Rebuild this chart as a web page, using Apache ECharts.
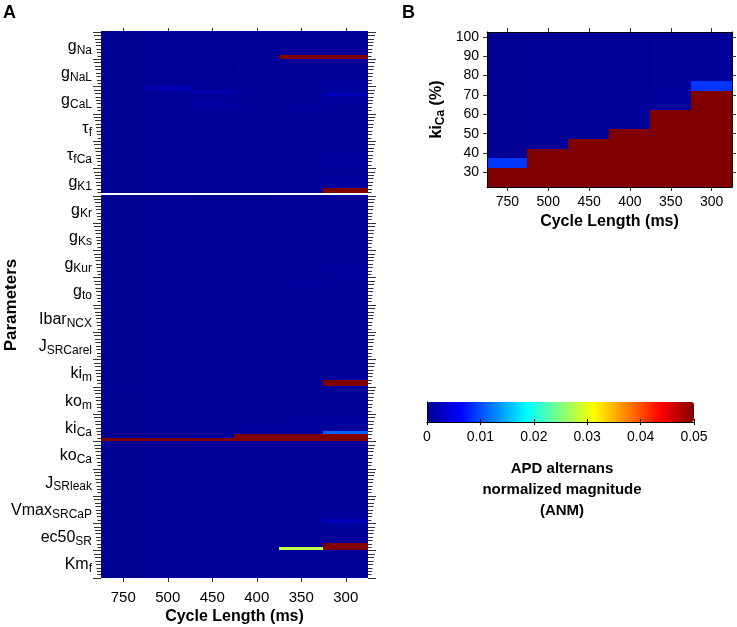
<!DOCTYPE html>
<html><head><meta charset="utf-8">
<script src="https://cdn.jsdelivr.net/npm/echarts@6/dist/echarts.min.js"></script>
<style>html,body{margin:0;padding:0;background:#fff}#c{width:737px;height:627px}</style>
</head><body><div id="c"></div><script>
// ---------- data ----------
const cycleLengths = ['750','500','450','400','350','300'];
const paramMain = ['g','g','g','\u03c4','\u03c4','g','g','g','g','g','Ibar','J','ki','ko','ki','ko','J','Vmax','ec50','Km'];
const paramSub  = ['Na','NaL','CaL','f','fCa','K1','Kr','Ks','Kur','to','NCX','SRCarel','m','m','Ca','Ca','SRleak','SRCaP','SR','f'];
const kiCaLevels = ['25','30','35','40','45','50','55','60','65','70','75','80','85','90','95','100'];
const colorbarTicks = [0, 0.01, 0.02, 0.03, 0.04, 0.05];

// Panel A: ANM, 8 scaling levels per parameter (top -> bottom), columns = cycleLengths
const anmA = [
// gNa
[0.0001,0.0004,0.0004,0.0005,0.0005,0.0005],
[0.0001,0.0004,0.0005,0.0006,0.0005,0.0005],
[0.0001,0.0004,0.0006,0.0007,0.0006,0.0005],
[0.0001,0.0004,0.0005,0.0006,0.0005,0.0006],
[0.0001,0.0004,0.0005,0.0005,0.0005,0.0006],
[0.0001,0.0004,0.0005,0.0005,0.0006,0.0006],
[0.0001,0.0004,0.0004,0.0005,0.0006,0.0007],
[0.0001,0.0004,0.0004,0.0005,0.05,0.05],
// gNaL
[0.0001,0.0004,0.0004,0.0005,0.0005,0.0005],
[0.0001,0.0004,0.0005,0.0006,0.0005,0.0005],
[0.0001,0.0004,0.0005,0.0006,0.0005,0.0006],
[0.0001,0.0004,0.0005,0.0006,0.0006,0.0006],
[0.0001,0.0004,0.0005,0.0006,0.0006,0.0005],
[0.0001,0.0005,0.0006,0.0005,0.0006,0.0005],
[0.0001,0.0005,0.0006,0.0005,0.0006,0.0006],
[0.0001,0.0006,0.0005,0.0005,0.0006,0.0006],
// gCaL
[0.0001,0.0020,0.0008,0.0005,0.0006,0.0007],
[0.0001,0.0007,0.0018,0.0006,0.0006,0.0007],
[0.0001,0.0005,0.0007,0.0006,0.0005,0.0024],
[0.0001,0.0004,0.0005,0.0005,0.0006,0.0007],
[0.0001,0.0004,0.0009,0.0005,0.0006,0.0006],
[0.0001,0.0004,0.0011,0.0005,0.0006,0.0006],
[0.0001,0.0004,0.0006,0.0005,0.0007,0.0006],
[0.0001,0.0004,0.0005,0.0005,0.0006,0.0005],
// tau_f
[0.0001,0.0004,0.0005,0.0005,0.0005,0.0005],
[0.0001,0.0004,0.0005,0.0005,0.0006,0.0005],
[0.0001,0.0004,0.0005,0.0006,0.0006,0.0006],
[0.0001,0.0004,0.0005,0.0006,0.0005,0.0006],
[0.0001,0.0004,0.0005,0.0005,0.0005,0.0006],
[0.0001,0.0004,0.0005,0.0005,0.0006,0.0006],
[0.0001,0.0004,0.0005,0.0005,0.0006,0.0006],
[0.0001,0.0004,0.0004,0.0005,0.0005,0.0006],
// tau_fCa
[0.0001,0.0004,0.0005,0.0005,0.0005,0.0005],
[0.0001,0.0004,0.0005,0.0005,0.0005,0.0006],
[0.0001,0.0004,0.0005,0.0006,0.0006,0.0006],
[0.0001,0.0004,0.0005,0.0006,0.0006,0.0007],
[0.0001,0.0004,0.0005,0.0005,0.0006,0.0007],
[0.0001,0.0004,0.0005,0.0005,0.0006,0.0007],
[0.0001,0.0004,0.0005,0.0005,0.0006,0.0006],
[0.0001,0.0004,0.0004,0.0005,0.0006,0.0007],
// gK1
[0.0001,0.0004,0.0005,0.0005,0.0005,0.0006],
[0.0001,0.0004,0.0005,0.0005,0.0006,0.0006],
[0.0001,0.0004,0.0005,0.0005,0.0006,0.0006],
[0.0001,0.0004,0.0005,0.0005,0.0006,0.0007],
[0.0001,0.0004,0.0005,0.0005,0.0006,0.0008],
[0.0001,0.0004,0.0005,0.0005,0.0006,0.0009],
[0.0001,0.0004,0.0005,0.0005,0.0006,0.05],
['-','-','-','-','-','-'],
// gKr
[0.0001,0.0004,0.0005,0.0005,0.0005,0.0005],
[0.0001,0.0004,0.0005,0.0005,0.0006,0.0005],
[0.0001,0.0004,0.0005,0.0005,0.0006,0.0006],
[0.0001,0.0004,0.0005,0.0005,0.0006,0.0006],
[0.0001,0.0004,0.0005,0.0005,0.0006,0.0006],
[0.0001,0.0004,0.0005,0.0005,0.0006,0.0006],
[0.0001,0.0004,0.0005,0.0005,0.0006,0.0006],
[0.0001,0.0004,0.0005,0.0005,0.0006,0.0006],
// gKs
[0.0001,0.0004,0.0005,0.0005,0.0005,0.0005],
[0.0001,0.0004,0.0005,0.0005,0.0005,0.0005],
[0.0001,0.0004,0.0005,0.0005,0.0006,0.0006],
[0.0001,0.0004,0.0005,0.0005,0.0006,0.0006],
[0.0001,0.0004,0.0005,0.0005,0.0006,0.0006],
[0.0001,0.0004,0.0005,0.0005,0.0006,0.0006],
[0.0001,0.0004,0.0005,0.0005,0.0006,0.0006],
[0.0001,0.0004,0.0005,0.0005,0.0006,0.0006],
// gKur
[0.0001,0.0004,0.0005,0.0005,0.0005,0.0006],
[0.0001,0.0004,0.0005,0.0005,0.0005,0.0006],
[0.0001,0.0004,0.0005,0.0005,0.0006,0.0006],
[0.0001,0.0004,0.0005,0.0005,0.0006,0.0006],
[0.0001,0.0004,0.0005,0.0005,0.0006,0.0006],
[0.0001,0.0004,0.0005,0.0005,0.0006,0.0006],
[0.0001,0.0004,0.0005,0.0005,0.0006,0.0007],
[0.0001,0.0004,0.0005,0.0005,0.0006,0.0006],
// gto
[0.0001,0.0004,0.0005,0.0005,0.0005,0.0006],
[0.0001,0.0004,0.0005,0.0005,0.0006,0.0006],
[0.0001,0.0004,0.0005,0.0006,0.0007,0.0006],
[0.0001,0.0004,0.0005,0.0005,0.0006,0.0006],
[0.0001,0.0004,0.0005,0.0005,0.0006,0.0006],
[0.0001,0.0004,0.0005,0.0005,0.0006,0.0006],
[0.0001,0.0004,0.0005,0.0005,0.0006,0.0006],
[0.0001,0.0004,0.0005,0.0005,0.0006,0.0006],
// IbarNCX
[0.0001,0.0004,0.0005,0.0005,0.0005,0.0006],
[0.0001,0.0004,0.0005,0.0005,0.0006,0.0006],
[0.0001,0.0004,0.0005,0.0005,0.0006,0.0006],
[0.0001,0.0004,0.0005,0.0005,0.0006,0.0006],
[0.0001,0.0004,0.0005,0.0005,0.0006,0.0006],
[0.0001,0.0004,0.0005,0.0005,0.0006,0.0006],
[0.0001,0.0004,0.0005,0.0005,0.0006,0.0006],
[0.0001,0.0004,0.0005,0.0005,0.0006,0.0006],
// JSRCarel
[0.0001,0.0004,0.0005,0.0005,0.0006,0.0006],
[0.0001,0.0004,0.0005,0.0005,0.0006,0.0006],
[0.0001,0.0004,0.0005,0.0005,0.0006,0.0006],
[0.0001,0.0004,0.0005,0.0005,0.0006,0.0006],
[0.0001,0.0004,0.0005,0.0005,0.0006,0.0006],
[0.0001,0.0004,0.0005,0.0005,0.0006,0.0006],
[0.0001,0.0004,0.0005,0.0005,0.0006,0.0006],
[0.0001,0.0004,0.0005,0.0005,0.0006,0.0006],
// kim
[0.0001,0.0004,0.0005,0.0005,0.0006,0.0006],
[0.0001,0.0004,0.0005,0.0005,0.0006,0.0006],
[0.0001,0.0004,0.0005,0.0005,0.0006,0.0006],
[0.0001,0.0004,0.0005,0.0005,0.0006,0.0006],
[0.0001,0.0004,0.0005,0.0005,0.0006,0.0006],
[0.0001,0.0004,0.0006,0.0005,0.0006,0.0007],
[0.0001,0.0004,0.0005,0.0005,0.0006,0.05],
[0.0001,0.0004,0.0005,0.0005,0.0006,0.05],
// kom
[0.0001,0.0004,0.0005,0.0005,0.0006,0.0006],
[0.0002,0.0004,0.0005,0.0005,0.0006,0.0006],
[0.0001,0.0004,0.0005,0.0005,0.0006,0.0006],
[0.0001,0.0004,0.0005,0.0005,0.0006,0.0006],
[0.0001,0.0004,0.0005,0.0005,0.0006,0.0006],
[0.0001,0.0004,0.0005,0.0005,0.0006,0.0006],
[0.0001,0.0004,0.0005,0.0005,0.0006,0.0006],
[0.0001,0.0004,0.0005,0.0005,0.0006,0.0006],
// kiCa
[0.0001,0.0004,0.0005,0.0005,0.0006,0.0006],
[0.0001,0.0004,0.0005,0.0006,0.0006,0.0007],
[0.0001,0.0004,0.0005,0.0006,0.0007,0.0007],
[0.0001,0.0004,0.0005,0.0006,0.0007,0.0008],
[0.0001,0.0004,0.0005,0.0007,0.0008,0.0008],
[0.0001,0.0004,0.0005,0.0007,0.0008,0.0110],
[0.0001,0.0004,0.0005,0.05,0.05,0.05],
[0.05,0.05,0.05,0.05,0.05,0.05],
// koCa
[0.0001,0.0004,0.0005,0.0005,0.0006,0.0006],
[0.0001,0.0004,0.0005,0.0005,0.0006,0.0006],
[0.0001,0.0004,0.0005,0.0005,0.0006,0.0006],
[0.0001,0.0004,0.0005,0.0005,0.0006,0.0006],
[0.0001,0.0004,0.0005,0.0005,0.0006,0.0006],
[0.0001,0.0004,0.0005,0.0005,0.0006,0.0006],
[0.0001,0.0004,0.0005,0.0005,0.0006,0.0006],
[0.0001,0.0004,0.0005,0.0005,0.0006,0.0006],
// JSRleak
[0.0001,0.0004,0.0005,0.0005,0.0006,0.0006],
[0.0001,0.0004,0.0005,0.0005,0.0006,0.0006],
[0.0001,0.0004,0.0005,0.0005,0.0006,0.0006],
[0.0001,0.0004,0.0005,0.0005,0.0006,0.0006],
[0.0001,0.0004,0.0005,0.0005,0.0006,0.0006],
[0.0001,0.0004,0.0005,0.0005,0.0006,0.0006],
[0.0001,0.0004,0.0005,0.0005,0.0006,0.0006],
[0.0001,0.0004,0.0005,0.0005,0.0006,0.0006],
// VmaxSRCaP
[0.0001,0.0004,0.0005,0.0005,0.0006,0.0006],
[0.0001,0.0008,0.0005,0.0005,0.0006,0.0006],
[0.0001,0.0004,0.0005,0.0005,0.0006,0.0006],
[0.0001,0.0004,0.0005,0.0005,0.0006,0.0006],
[0.0001,0.0004,0.0005,0.0005,0.0006,0.0006],
[0.0001,0.0004,0.0005,0.0005,0.0006,0.0007],
[0.0001,0.0004,0.0005,0.0005,0.0006,0.0007],
[0.0001,0.0004,0.0005,0.0005,0.0006,0.0022],
// ec50SR
[0.0001,0.0004,0.0005,0.0005,0.0006,0.0006],
[0.0001,0.0004,0.0005,0.0005,0.0006,0.0006],
[0.0001,0.0004,0.0005,0.0005,0.0006,0.0006],
[0.0001,0.0004,0.0005,0.0005,0.0006,0.0006],
[0.0001,0.0004,0.0005,0.0005,0.0006,0.0007],
[0.0001,0.0004,0.0005,0.0005,0.0006,0.0007],
[0.0001,0.0004,0.0005,0.0005,0.0006,0.05],
[0.0001,0.0004,0.0005,0.0005,0.0280,0.05],
// Kmf
[0.0001,0.0004,0.0005,0.0005,0.0006,0.0006],
[0.0001,0.0004,0.0005,0.0005,0.0006,0.0006],
[0.0001,0.0004,0.0005,0.0005,0.0006,0.0006],
[0.0001,0.0004,0.0005,0.0005,0.0006,0.0006],
[0.0001,0.0004,0.0005,0.0005,0.0006,0.0006],
[0.0001,0.0004,0.0005,0.0005,0.0006,0.0006],
[0.0001,0.0004,0.0005,0.0005,0.0006,0.0006],
[0.0001,0.0004,0.0005,0.0005,0.0006,0.0006]
];

// Panel B: ANM vs ki_Ca level (rows follow kiCaLevels, 25 -> 100), columns = cycleLengths
const anmB = [
[0.05,0.05,0.05,0.05,0.05,0.05],
[0.05,0.05,0.05,0.05,0.05,0.05],
[0.0088,0.05,0.05,0.05,0.05,0.05],
[0.0002,0.05,0.05,0.05,0.05,0.05],
[0.0002,0.0004,0.05,0.05,0.05,0.05],
[0.0002,0.0004,0.0005,0.05,0.05,0.05],
[0.0002,0.0004,0.0005,0.0006,0.05,0.05],
[0.0002,0.0004,0.0005,0.0006,0.05,0.05],
[0.0002,0.0004,0.0004,0.0006,0.0007,0.05],
[0.0002,0.0004,0.0004,0.0005,0.0007,0.05],
[0.0002,0.0004,0.0005,0.0005,0.0006,0.0088],
[0.0002,0.0004,0.0005,0.0005,0.0006,0.0006],
[0.0002,0.0004,0.0005,0.0005,0.0006,0.0006],
[0.0002,0.0004,0.0005,0.0005,0.0006,0.0006],
[0.0002,0.0004,0.0005,0.0005,0.0006,0.0006],
[0.0002,0.0004,0.0005,0.0005,0.0006,0.0006]
];

// ---------- build ----------
const FONT = '"Liberation Sans", Arial, Helvetica, sans-serif';
const jet = ['#00008F','#0000FF','#0080FF','#00FFFF','#80FF80','#FFFF00','#FF8000','#FF0000','#800000'];
const perParam = anmA.length / paramMain.length;
const catA = anmA.map((r, i) => String(i));
const dataA = [];
anmA.forEach((row, y) => row.forEach((v, x) => dataA.push([x, y, v])));
const dataB = [];
anmB.forEach((row, y) => row.forEach((v, x) => dataB.push([x, y, v])));

function renderCell(params, api) {
  const v = api.value(2);
  if (v === '-' || isNaN(v)) return null;
  const c = api.coord([api.value(0), api.value(1)]);
  const s = api.size([1, 1]);
  const x0 = Math.floor(c[0] - s[0] / 2), x1 = Math.ceil(c[0] + s[0] / 2);
  const y0 = Math.floor(c[1] - s[1] / 2), y1 = Math.ceil(c[1] + s[1] / 2);
  return {type: 'rect', shape: {x: x0, y: y0, width: x1 - x0, height: y1 - y0},
          style: {fill: api.visual('color')}};
}

const tickStyle = {lineStyle: {color: '#333', width: 1}};
const richA = {
  m: {fontSize: 16, fontFamily: FONT, color: '#000', verticalAlign: 'top', lineHeight: 18},
  s: {fontSize: 12, fontFamily: FONT, color: '#000', verticalAlign: 'bottom', lineHeight: 13, padding: [10, 0, 0, 0]}
};
// sawtooth tick marks on panel A (one axis per tick length)
const tickLens = [8, 7, 6, 5.5, 5, 4.5, 4, 3.5];
const tickAxes = [];
['left', 'right'].forEach(pos => tickLens.forEach((len, k) => tickAxes.push({
  type: 'category', gridIndex: 0, data: catA, inverse: true, position: pos,
  axisLine: {show: false}, axisLabel: {show: false}, splitLine: {show: false},
  axisTick: {show: true, inside: false, length: len, interval: (i) => i % perParam === k, lineStyle: {color: '#333', width: 1}}
})));

const chart = echarts.init(document.getElementById('c'), null, {renderer: 'canvas'});
chart.setOption({
  animation: false,
  backgroundColor: '#fff',
  textStyle: {fontFamily: FONT},
  grid: [
    {left: 101, top: 32, width: 267, height: 546, outerBoundsMode: 'none', containLabel: false},
    {left: 487, top: 32, width: 245, height: 155, outerBoundsMode: 'none', containLabel: false},
    {left: 427, top: 402, width: 267, height: 20, outerBoundsMode: 'none', containLabel: false}
  ],
  xAxis: [
    {type: 'category', gridIndex: 0, data: cycleLengths, position: 'bottom',
     axisLine: {show: false}, axisTick: Object.assign({show: true, inside: false, length: 4, alignWithLabel: true}, tickStyle),
     axisLabel: {fontSize: 15, color: '#000', margin: 12},
     name: 'Cycle Length (ms)', nameLocation: 'middle', nameGap: 31, nameMoveOverlap: false,
     nameTextStyle: {fontSize: 16, fontWeight: 'bold', color: '#000'}},
    {type: 'category', gridIndex: 0, data: cycleLengths, position: 'top',
     axisLine: {show: false}, axisTick: Object.assign({show: true, inside: false, length: 4, alignWithLabel: true}, tickStyle),
     axisLabel: {show: false}},
    {type: 'category', gridIndex: 1, data: cycleLengths, position: 'bottom', z: 5,
     axisLine: {show: true, lineStyle: {color: '#000', width: 1}},
     axisTick: Object.assign({show: true, inside: false, length: 4, alignWithLabel: true}, tickStyle),
     axisLabel: {fontSize: 14, color: '#000', margin: 8},
     name: 'Cycle Length (ms)', nameLocation: 'middle', nameGap: 27,
     nameTextStyle: {fontSize: 16, fontWeight: 'bold', color: '#000'}},
    {type: 'category', gridIndex: 1, data: cycleLengths, position: 'top', z: 5,
     axisLine: {show: true, lineStyle: {color: '#000', width: 1}},
     axisTick: Object.assign({show: true, inside: false, length: 4, alignWithLabel: true}, tickStyle),
     axisLabel: {show: false}},
    {type: 'value', gridIndex: 2, min: 0, max: 0.05, interval: 0.01, position: 'bottom', z: 10,
     axisLine: {show: true, lineStyle: {color: '#000', width: 1}},
     axisTick: {show: true, inside: true, length: 3, lineStyle: {color: '#000'}},
     splitLine: {show: false},
     axisLabel: {fontSize: 14, color: '#000', margin: 8, formatter: v => String(colorbarTicks.find(t => Math.abs(t - v) < 1e-9) ?? v)}},
    {type: 'value', gridIndex: 2, min: 0, max: 0.05, interval: 0.01, position: 'top', z: 10,
     axisLine: {show: true, lineStyle: {color: '#000', width: 1}},
     axisTick: {show: true, inside: true, length: 3, lineStyle: {color: '#000'}},
     splitLine: {show: false}, axisLabel: {show: false}}
  ],
  yAxis: [
    {type: 'category', gridIndex: 0, data: catA, inverse: true, position: 'left',
     axisLine: {show: false}, axisTick: {show: false},
     axisLabel: {interval: (i) => i % perParam === perParam / 2, margin: 9, color: '#000',
       formatter: (v) => { const g = Math.floor(+v / perParam); return '{m|' + paramMain[g] + '}{s|' + paramSub[g] + '}'; },
       rich: richA},
     name: 'Parameters', nameLocation: 'middle', nameGap: 81, nameRotate: 90, nameMoveOverlap: false,
     nameTextStyle: {fontSize: 17, fontWeight: 'bold', color: '#000'}},
    {type: 'category', gridIndex: 1, data: kiCaLevels, position: 'left', z: 5,
     axisLine: {show: true, lineStyle: {color: '#000', width: 1}},
     axisTick: Object.assign({show: true, inside: false, length: 4, alignWithLabel: true, interval: (i, v) => (+v) % 10 === 0}, tickStyle),
     axisLabel: {fontSize: 14, color: '#000', margin: 8, interval: (i, v) => (+v) % 10 === 0},
     name: '{m|ki}{s|Ca}{m| (%)}', nameLocation: 'middle', nameGap: 40, nameRotate: 90,
     nameTextStyle: {rich: {
       m: {fontSize: 16, fontWeight: 'bold', fontFamily: FONT, color: '#000', verticalAlign: 'top', lineHeight: 18},
       s: {fontSize: 12, fontWeight: 'bold', fontFamily: FONT, color: '#000', verticalAlign: 'bottom', lineHeight: 13, padding: [9, 0, 0, 0]}}}},
    {type: 'category', gridIndex: 1, data: kiCaLevels, position: 'right', z: 5,
     axisLine: {show: true, lineStyle: {color: '#000', width: 1}},
     axisTick: Object.assign({show: true, inside: false, length: 4, alignWithLabel: true, interval: (i, v) => (+v) % 10 === 0}, tickStyle),
     axisLabel: {show: false}},
    {type: 'value', gridIndex: 2, min: 0, max: 1, position: 'left', z: 10,
     axisLine: {show: true, lineStyle: {color: '#000', width: 1}},
     axisTick: {show: false}, axisLabel: {show: false}, splitLine: {show: false}},
    {type: 'value', gridIndex: 2, min: 0, max: 1, position: 'right', z: 10,
     axisLine: {show: true, lineStyle: {color: '#000', width: 1}},
     axisTick: {show: false}, axisLabel: {show: false}, splitLine: {show: false}}
  ].concat(tickAxes),
  visualMap: {
    type: 'continuous', min: 0, max: 0.05, seriesIndex: [0, 1], dimension: 2, orient: 'horizontal',
    left: 427, top: 402, itemWidth: 20, itemHeight: 267, padding: 0,
    calculable: false, realtime: false, hoverLink: false,
    inRange: {color: jet}, textStyle: {color: 'transparent'}
  },
  graphic: [
    {type: 'text', left: 3, top: 4, style: {text: 'A', fill: '#000', font: 'bold 18px ' + FONT}},
    {type: 'text', left: 402, top: 4, style: {text: 'B', fill: '#000', font: 'bold 18px ' + FONT}},
    {type: 'text', x: 562, y: 458, style: {text: 'APD alternans\nnormalized magnitude\n(ANM)', fill: '#000',
      font: 'bold 15px ' + FONT, align: 'center', textAlign: 'center', lineHeight: 21}}
  ],
  series: [
    {type: 'custom', xAxisIndex: 0, yAxisIndex: 0, data: dataA, renderItem: renderCell,
     encode: {x: 0, y: 1}, progressive: 0, silent: true},
    {type: 'custom', xAxisIndex: 2, yAxisIndex: 1, data: dataB, renderItem: renderCell,
     encode: {x: 0, y: 1}, progressive: 0, silent: true}
  ]
});
</script></body></html>
